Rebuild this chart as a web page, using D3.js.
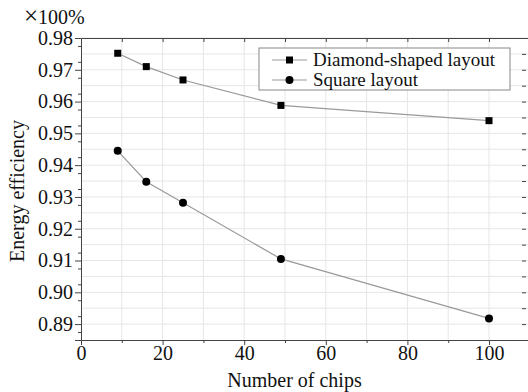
<!DOCTYPE html>
<html lang="en">
<head>
  <meta charset="UTF-8">
  <title>Energy efficiency vs number of chips</title>
  <script src="https://d3js.org/d3.v7.min.js"></script>
  <style>
    body { margin: 0; background: #fff; }
    svg text { font-family: "Liberation Serif", "Times New Roman", serif !important; fill: #111; }
    .grid line { stroke: #e6e6e6; stroke-width: 1; }
    .axis path, .axis line { stroke: #444; }
  </style>
</head>
<body>
  <svg id="chart" width="528" height="392"></svg>
  <script>
    // data
    const chips = [9, 16, 25, 49, 100];
    const diamond = [0.9752, 0.9710, 0.9668, 0.9588, 0.9540];
    const square = [0.9445, 0.9348, 0.9282, 0.9105, 0.8918];
    const seriesNames = ["Diamond-shaped layout", "Square layout"];
    const xTicks = [0, 20, 40, 60, 80, 100];
    const yTicks = [0.89, 0.90, 0.91, 0.92, 0.93, 0.94, 0.95, 0.96, 0.97, 0.98];

    const svg = d3.select("#chart");
    const m = { left: 81, right: 528, top: 38, bottom: 340 };

    const x = d3.scaleLinear().domain([0, 110]).range([m.left, m.left + 110 * 4.08]);
    const y = d3.scaleLinear().domain([0.885, 0.98]).range([m.bottom, m.top]);

    // grid
    const g = svg.append("g").attr("class", "grid");
    g.selectAll(".v").data(d3.range(10, 111, 10)).enter().append("line")
      .attr("x1", d => x(d)).attr("x2", d => x(d))
      .attr("y1", m.top).attr("y2", m.bottom);
    g.selectAll(".h").data(d3.range(0, 19).map(i => 0.89 + i * 0.005)).enter().append("line")
      .attr("x1", m.left).attr("x2", m.right)
      .attr("y1", d => y(d)).attr("y2", d => y(d));

    // axes
    const fmt = d3.format(".2f");
    svg.append("g").attr("class", "axis")
      .attr("transform", `translate(0,${m.bottom})`)
      .call(d3.axisBottom(x).tickValues(xTicks).tickSize(5).tickPadding(1))
      .call(a => a.selectAll("text").style("font-size", "20px"));
    svg.append("g").attr("class", "axis")
      .attr("transform", `translate(0,${m.bottom})`)
      .call(d3.axisBottom(x).tickValues(d3.range(10, 111, 20)).tickSize(3).tickFormat(""))
      .call(a => a.select(".domain").remove());
    svg.append("g").attr("class", "axis")
      .attr("transform", `translate(${m.left},0)`)
      .call(d3.axisLeft(y).tickValues(yTicks).tickFormat(fmt).tickSize(6).tickPadding(2))
      .call(a => a.selectAll("text").style("font-size", "20px"));
    svg.append("g").attr("class", "axis")
      .attr("transform", `translate(${m.left},0)`)
      .call(d3.axisLeft(y).tickValues(d3.range(0, 19).map(i => 0.8875 + i * 0.005)).tickSize(3).tickFormat(""))
      .call(a => a.select(".domain").remove());
    // top and right frame with inward ticks
    svg.append("g").attr("class", "axis")
      .attr("transform", `translate(0,${m.top})`)
      .call(d3.axisBottom(x).tickValues(d3.range(10, 111, 10)).tickSizeInner(4).tickSizeOuter(0).tickFormat(""));
    svg.append("g").attr("class", "axis")
      .attr("transform", `translate(${m.right - 2},0)`)
      .call(d3.axisLeft(y).tickValues(d3.range(0, 19).map(i => 0.89 + i * 0.005)).tickSizeInner(4).tickSizeOuter(0).tickFormat(""))
      .call(a => a.select(".domain").remove());

    // lines
    const line = d3.line().x(d => x(d[0])).y(d => y(d[1]));
    const dPts = chips.map((c, i) => [c, diamond[i]]);
    const sPts = chips.map((c, i) => [c, square[i]]);
    [dPts, sPts].forEach(p => {
      svg.append("path").datum(p).attr("d", line)
        .attr("fill", "none").attr("stroke", "#9a9a9a").attr("stroke-width", 1.2);
    });
    svg.selectAll(".sq").data(dPts).enter().append("rect")
      .attr("x", d => x(d[0]) - 3.5).attr("y", d => y(d[1]) - 3.5)
      .attr("width", 7).attr("height", 7).attr("fill", "#000");
    svg.selectAll(".ci").data(sPts).enter().append("circle")
      .attr("cx", d => x(d[0])).attr("cy", d => y(d[1])).attr("r", 4).attr("fill", "#000");

    // legend
    const lg = svg.append("g");
    lg.append("rect").attr("x", 259).attr("y", 48).attr("width", 251).attr("height", 42)
      .attr("fill", "#fff").attr("stroke", "#888");
    seriesNames.forEach((n, i) => {
      const ly = 60 + i * 20;
      lg.append("line").attr("x1", 272).attr("x2", 307).attr("y1", ly).attr("y2", ly)
        .attr("stroke", "#9a9a9a").attr("stroke-width", 1.2);
      if (i === 0) lg.append("rect").attr("x", 286).attr("y", ly - 3.5).attr("width", 7).attr("height", 7);
      else lg.append("circle").attr("cx", 289.5).attr("cy", ly).attr("r", 4);
      lg.append("text").attr("x", 313).attr("y", ly + 6).style("font-size", "19px").text(n);
    });

    // titles
    svg.append("text").attr("x", (x(0) + m.right) / 2 - 10).attr("y", 387)
      .attr("text-anchor", "middle").style("font-size", "20px").text("Number of chips");
    svg.append("text").attr("transform", `translate(24,${(m.top + m.bottom) / 2 + 2}) rotate(-90)`)
      .attr("text-anchor", "middle").style("font-size", "20px").text("Energy efficiency");
    svg.append("text").attr("x", 24).attr("y", 24).style("font-size", "20px")
      .html('<tspan style="font-size:25px">×</tspan>100%');
  </script>
</body>
</html>
